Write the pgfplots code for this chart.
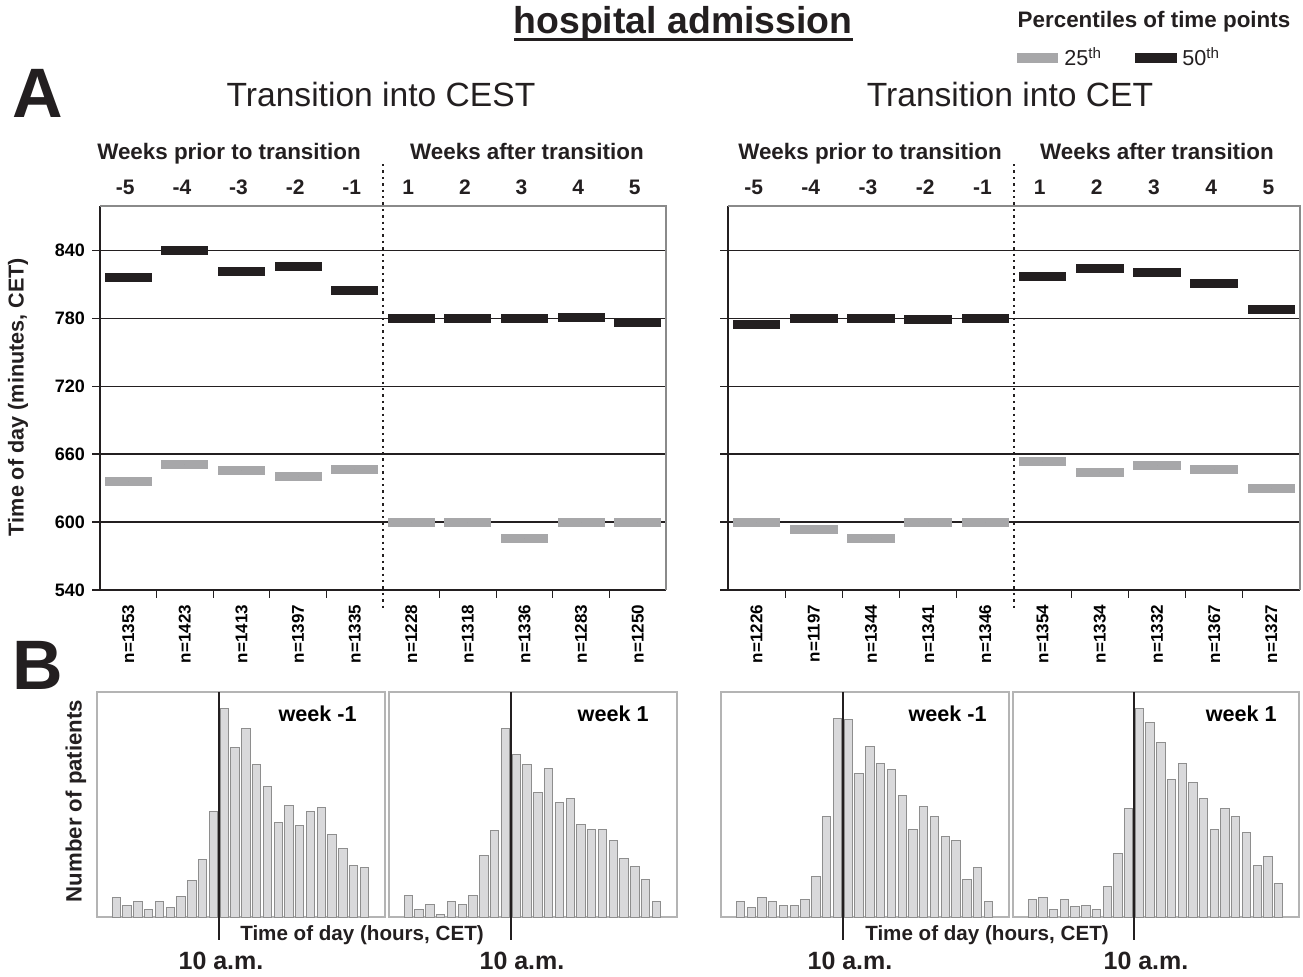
\documentclass[border=0pt]{standalone}
\usepackage{pgfplots}
\pgfplotsset{compat=1.18}
\usepackage{fontspec}
\setmainfont{Liberation Sans}
\definecolor{pgray}{HTML}{A7A7A9}
\definecolor{pblack}{HTML}{231F20}
\definecolor{hfill}{HTML}{D9D9DB}
\definecolor{hdraw}{HTML}{8E8E8E}
\definecolor{hbox}{HTML}{B4B4B4}
\definecolor{bgray}{HTML}{8A8A8A}
\newcommand{\fs}[1]{\fontsize{#1}{#1}\selectfont}
\pgfplotsset{
  pA/.style={scale only axis, height=192pt, xmin=0, xmax=10, ymin=540, ymax=879, clip=false,
    axis lines*=left, axis line style={pblack, line width=0.8pt},
    ytick={540,600,660,720,780,840}, ymajorgrids, grid style={pblack, line width=0.6pt},
    xtick={0.5,1.5,...,9.5}, xtick style={draw=none}, ytick style={pblack, line width=0.6pt},
    tick align=outside, major tick length=4pt,
    x tick label style={rotate=90, anchor=east, font=\bfseries\fs{8.5}},
    y tick label style={font=\bfseries\fs{9}}},
  pct/.style={only marks, mark size=0pt, mark options={draw=none, fill=none},
    error bars/.cd, x dir=both, x fixed=0.415, error mark=none,
    error bar style={line width=4.5pt, #1}},
  hist/.style={scale only axis, height=112.5pt, xmin=-1.8, xmax=24.9, ymin=0, ymax=673,
    xtick=\empty, ytick=\empty, axis line style={hbox, line width=0.7pt}, clip=false,
    ybar, bar width=0.78},
  hbar/.style={fill=hfill, draw=hdraw, line width=0.5pt}
}
\begin{document}
\begin{tikzpicture}
\path[use as bounding box] (0,0) rectangle (651.5pt,488pt);

% ---------- Panel A: CEST ----------
\begin{axis}[pA, width=283pt, at={(50pt,193pt)}, anchor=south west,
  yticklabels={540,600,660,720,780,840},
  xticklabels={n=1353,n=1423,n=1413,n=1397,n=1335,n=1228,n=1318,n=1336,n=1283,n=1250}]
\draw[bgray, line width=0.6pt] (axis cs:0,879) -- (axis cs:10,879) -- (axis cs:10,540);
\addplot[pct=pgray] coordinates {(0.5,635.5)(1.5,650.5)(2.5,645.5)(3.5,640.5)(4.5,646.5)(5.5,600)(6.5,600)(7.5,585.5)(8.5,600)(9.5,600)};
\addplot[pct=pblack] coordinates {(0.5,816)(1.5,840)(2.5,821)(3.5,826)(4.5,804)(5.5,780)(6.5,780)(7.5,780)(8.5,781)(9.5,776)};
\pgfplotsinvokeforeach{1,2,3,4,6,7,8,9}{\draw[pblack, line width=0.6pt] (axis cs:#1,540) -- ([yshift=-4pt]axis cs:#1,540);}
\draw[pblack, line width=1.2pt, dash pattern=on 1.2pt off 2pt] (axis cs:5,916) -- (axis cs:5,522);
\end{axis}

% ---------- Panel A: CET ----------
\begin{axis}[pA, width=286pt, at={(364pt,193pt)}, anchor=south west,
  yticklabels={},
  xticklabels={n=1226,n=1197,n=1344,n=1341,n=1346,n=1354,n=1334,n=1332,n=1367,n=1327}]
\draw[bgray, line width=0.6pt] (axis cs:0,879) -- (axis cs:10,879) -- (axis cs:10,540);
\addplot[pct=pgray] coordinates {(0.5,600)(1.5,593.7)(2.5,585.7)(3.5,600)(4.5,600)(5.5,653)(6.5,644)(7.5,650)(8.5,646)(9.5,630)};
\addplot[pct=pblack] coordinates {(0.5,774)(1.5,780)(2.5,780)(3.5,779)(4.5,780)(5.5,816.5)(6.5,824)(7.5,820.5)(8.5,810.5)(9.5,787.5)};
\pgfplotsinvokeforeach{1,2,3,4,6,7,8,9}{\draw[pblack, line width=0.6pt] (axis cs:#1,540) -- ([yshift=-4pt]axis cs:#1,540);}
\draw[pblack, line width=1.2pt, dash pattern=on 1.2pt off 2pt] (axis cs:5,916) -- (axis cs:5,522);
\end{axis}

% ---------- Panel B histograms ----------
\begin{axis}[hist, width=144pt, at={(48.5pt,29.5pt)}, anchor=south west]
\addplot[hbar] coordinates {(0,57)(1,35)(2,47)(3,23)(4,47)(5,27)(6,62)(7,108)(8,172)(9,317)(10,625)(11,507)(12,565)(13,455)(14,390)(15,283)(16,335)(17,274)(18,317)(19,329)(20,248)(21,205)(22,154)(23,147)};
\draw[pblack, line width=1pt] (axis cs:9.5,673) -- (axis cs:9.5,-70);
\node[anchor=north east, inner sep=0pt, xshift=-14pt, yshift=-6.5pt, font=\bfseries\fs{10.8}] at (rel axis cs:1,1) {week -1};
\end{axis}

\begin{axis}[hist, width=144pt, at={(194.5pt,29.5pt)}, anchor=south west]
\addplot[hbar] coordinates {(0,65)(1,22)(2,38)(3,8)(4,47)(5,38)(6,65)(7,185)(8,258)(9,565)(10,487)(11,455)(12,373)(13,444)(14,343)(15,355)(16,278)(17,262)(18,262)(19,228)(20,176)(21,150)(22,112)(23,47)};
\draw[pblack, line width=1pt] (axis cs:9.5,673) -- (axis cs:9.5,-70);
\node[anchor=north east, inner sep=0pt, xshift=-14pt, yshift=-6.5pt, font=\bfseries\fs{10.8}] at (rel axis cs:1,1) {week 1};
\end{axis}

\begin{axis}[hist, width=144pt, at={(360.5pt,29.5pt)}, anchor=south west]
\addplot[hbar] coordinates {(0,47)(1,27)(2,57)(3,47)(4,35)(5,35)(6,52)(7,120)(8,300)(9,595)(10,592)(11,429)(12,510)(13,459)(14,440)(15,364)(16,263)(17,330)(18,300)(19,240)(20,228)(21,112)(22,147)(23,47)};
\draw[pblack, line width=1pt] (axis cs:9.5,673) -- (axis cs:9.5,-70);
\node[anchor=north east, inner sep=0pt, xshift=-11pt, yshift=-6.5pt, font=\bfseries\fs{10.8}] at (rel axis cs:1,1) {week -1};
\end{axis}

\begin{axis}[hist, width=143pt, at={(506.5pt,29.5pt)}, anchor=south west]
\addplot[hbar] coordinates {(0,52)(1,58)(2,23)(3,53)(4,31)(5,35)(6,23)(7,91)(8,189)(9,325)(10,625)(11,582)(12,522)(13,410)(14,459)(15,402)(16,355)(17,262)(18,325)(19,301)(20,252)(21,154)(22,181)(23,100)};
\draw[pblack, line width=1pt] (axis cs:9.5,673) -- (axis cs:9.5,-70);
\node[anchor=north east, inner sep=0pt, xshift=-11pt, yshift=-6.5pt, font=\bfseries\fs{10.8}] at (rel axis cs:1,1) {week 1};
\end{axis}

% ---------- Texts ----------
\begin{scope}[x=0.5pt, y=0.5pt]
\node[anchor=base, inner sep=0pt, font=\bfseries\fs{18.7}, text=pblack] at (683,942) {hospital admission};
\draw[pblack, line width=1.5pt] (514,936.5) -- (853,936.5);
\node[anchor=base, inner sep=0pt, font=\bfseries\fs{11.2}, text=pblack] at (1154,948) {Percentiles of time points};
\fill[pgray] (1017,913) rectangle (1058,923);
\fill[pblack] (1135,913) rectangle (1177,923);
\node[anchor=base west, inner sep=0pt, font=\fs{10.8}, text=pblack] at (1064,910) {25\textsuperscript{th}};
\node[anchor=base west, inner sep=0pt, font=\fs{10.8}, text=pblack] at (1182,910) {50\textsuperscript{th}};
\node[anchor=base, inner sep=0pt, font=\bfseries\fs{35}, text=pblack] at (38,858) {A};
\node[anchor=base, inner sep=0pt, font=\bfseries\fs{35}, text=pblack] at (38,286) {B};
\node[anchor=base, inner sep=0pt, font=\fs{16.8}, text=pblack] at (381,869) {Transition into CEST};
\node[anchor=base, inner sep=0pt, font=\fs{16.8}, text=pblack] at (1010,869) {Transition into CET};
\foreach \xx/\tt in {229/Weeks prior to transition, 527/Weeks after transition, 870/Weeks prior to transition, 1157/Weeks after transition}
  \node[anchor=base, inner sep=0pt, font=\bfseries\fs{11.2}, text=pblack] at (\xx,816) {\tt};
\foreach \i/\l in {0/-5,1/-4,2/-3,3/-2,4/-1,5/1,6/2,7/3,8/4,9/5} {
  \node[anchor=base, inner sep=0pt, font=\bfseries\fs{10.5}, text=pblack] at ({97+(\i+0.5)*56.6},781) {\l};
  \node[anchor=base, inner sep=0pt, font=\bfseries\fs{10.5}, text=pblack] at ({725+(\i+0.5)*57.2},781) {\l};
}
\node[rotate=90, inner sep=0pt, font=\bfseries\fs{10.8}, text=pblack] at (18,579) {Time of day (minutes, CET)};
\node[rotate=90, inner sep=0pt, font=\bfseries\fs{11.1}, text=pblack] at (76,175) {Number of patients};
\node[anchor=base, inner sep=0pt, font=\bfseries\fs{10.3}, text=pblack] at (362,35) {Time of day (hours, CET)};
\node[anchor=base, inner sep=0pt, font=\bfseries\fs{10.3}, text=pblack] at (987,35) {Time of day (hours, CET)};
\foreach \xx in {221,522,850,1146}
  \node[anchor=base, inner sep=0pt, font=\bfseries\fs{12.5}, text=pblack] at (\xx,6) {10 a.m.};
\end{scope}
\end{tikzpicture}
\end{document}
